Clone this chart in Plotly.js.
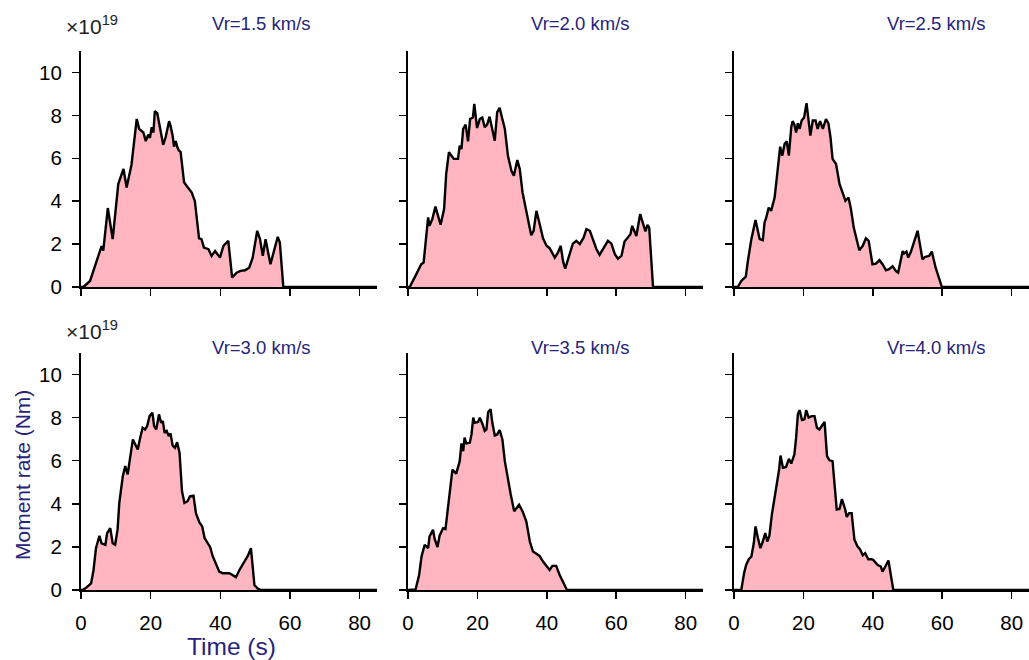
<!DOCTYPE html>
<html>
<head>
<meta charset="utf-8">
<script src="https://cdn.plot.ly/plotly-3.0.1.min.js"></script>
<style>html,body{margin:0;padding:0;background:#fff;}#chart{width:1029px;height:660px;}</style>
</head>
<body>
<div id="chart"></div>
<script>
// ---- data (time in s, moment rate in 1e19 Nm) ----
const panelTitles = ["Vr=1.5 km/s", "Vr=2.0 km/s", "Vr=2.5 km/s", "Vr=3.0 km/s", "Vr=3.5 km/s", "Vr=4.0 km/s"];
const xTicks = [0, 20, 40, 60, 80];
const yTicks = [0, 2, 4, 6, 8, 10];

const t15 = [0,0.7,2.6,4.5,5.5,5.9,6.4,7.7,9.1,10.7,12.2,13.1,14.5,16.0,16.7,17.9,18.6,19.3,19.8,20.3,20.8,21.2,21.9,22.7,23.6,24.3,25.3,25.7,26.3,26.7,27.2,27.7,28.1,28.6,29.6,30.3,31.8,32.7,33.9,34.6,35.3,36.6,37.5,38.5,39.9,40.9,42.3,43.4,44.7,45.8,47.1,48.3,49.3,50.6,51.4,52.2,53.0,54.4,56.5,57.1,58.1,85];
const m15 = [0,0,0.28,1.2,1.76,1.9,1.7,3.68,2.23,4.8,5.5,4.64,5.7,7.83,7.37,7.2,6.8,7.1,6.95,7.45,7.2,8.2,8.1,7.45,6.63,6.98,7.73,7.52,7.06,6.54,6.8,6.5,6.36,6.3,4.88,4.72,4.4,4.0,2.27,2.23,1.84,1.76,1.45,1.68,1.37,1.92,2.15,0.44,0.67,0.75,0.78,0.9,1.37,2.62,2.23,1.45,2.23,1.06,2.34,2.07,0,0];

const t20 = [0,0.5,2.4,3.8,4.5,5.8,6.2,7.0,7.9,8.7,9.4,10.4,11.0,11.8,12.5,13.2,14.4,14.9,15.4,15.9,16.6,17.3,17.9,18.7,19.1,19.9,20.7,21.4,22.1,22.8,23.5,24.2,25.0,25.7,26.4,27.9,28.8,29.8,30.5,31.5,32.2,33.0,34.1,35.5,36.2,37.0,37.9,38.9,39.9,40.8,42.3,43.2,44.0,44.7,45.3,46.1,46.8,47.5,48.5,49.5,50.6,51.4,52.4,53.3,54.3,55.2,56.4,57.6,58.6,59.6,60.5,61.5,62.4,63.4,64.1,64.6,65.8,66.9,67.7,68.4,69.0,69.5,70.6,85];
const m20 = [0,0,0.6,1.06,1.14,3.24,2.85,3.16,3.75,3.32,2.9,3.63,5.26,6.28,6.12,5.97,5.97,6.59,6.43,7.37,7.57,6.79,7.83,7.9,8.54,7.41,7.83,7.9,7.45,7.57,7.94,7.37,6.82,8.15,8.35,7.37,6.12,5.42,5.19,5.92,5.5,4.41,3.47,2.41,2.62,3.55,2.96,2.27,1.92,1.81,1.37,1.6,1.92,1.18,0.86,1.29,1.6,2.02,2.15,2.0,2.3,2.7,2.62,2.23,1.76,1.5,1.84,2.15,2.02,1.53,1.32,1.45,2.12,2.34,2.46,2.85,2.38,3.4,2.93,2.59,2.9,2.77,0,0];

const t25 = [0,1.1,2.1,3.4,4.0,5.0,6.2,7.4,8.3,8.8,9.3,10.0,10.7,11.7,12.4,13.3,13.9,14.6,15.2,15.8,16.5,16.9,17.4,17.9,18.4,18.9,19.5,20.2,20.9,21.3,22.0,22.7,23.5,24.1,24.8,25.6,26.5,27.2,27.8,28.4,29.4,30.4,31.1,32.1,33.0,33.7,34.5,35.3,36.1,37.1,38.0,38.8,39.9,40.9,41.9,42.8,43.8,44.7,45.7,46.6,47.3,48.6,49.0,49.7,50.2,51.0,51.9,52.9,53.4,54.3,55.0,56.2,57.0,58.1,59.9,85];
const m25 = [0,0,0.28,0.48,1.21,2.23,3.12,2.23,2.18,3.0,3.24,3.7,3.55,4.17,5.19,6.54,6.12,6.67,6.79,6.12,7.45,7.73,7.57,7.2,7.63,7.37,7.76,7.9,8.57,8.07,7.06,7.76,7.76,7.37,7.73,7.37,7.83,7.63,6.98,5.97,5.73,4.8,4.49,4.02,4.17,3.63,2.77,2.3,1.71,1.92,2.27,2.15,1.06,1.09,1.25,1.06,0.78,0.83,0.97,0.75,0.67,1.68,1.56,1.65,1.37,1.65,2.12,2.62,2.15,1.29,1.4,1.45,1.65,0.9,0,0];

const t30 = [0,0.5,1.6,2.9,3.6,4.3,5.3,5.9,7.0,7.5,8.4,9.1,9.8,10.5,11.0,12.0,12.7,13.4,14.1,14.9,15.6,16.3,17.0,17.7,18.4,19.0,19.7,20.5,21.0,21.6,22.4,23.0,23.5,24.0,24.6,25.2,25.7,26.3,27.0,27.6,28.3,29.0,29.7,30.6,31.3,32.3,33.0,34.0,34.8,35.5,36.4,37.1,37.8,38.8,39.7,40.7,42.6,43.5,44.5,45.5,46.9,47.9,48.8,49.8,50.8,51.7,85];
const m30 = [0,0,0.12,0.31,0.93,1.94,2.52,2.17,2.1,2.64,2.87,2.17,2.1,2.8,4.04,5.28,5.75,5.36,6.13,6.99,6.75,6.52,7.07,7.53,7.45,7.61,8.07,8.23,7.61,7.45,8.15,7.76,7.84,7.3,7.38,7.14,7.27,6.71,6.6,6.86,6.37,4.58,4.04,4.12,4.35,4.38,3.57,3.14,2.95,2.41,2.17,1.99,1.58,1.16,0.85,0.78,0.78,0.7,0.59,0.93,1.32,1.58,1.94,0.23,0.06,0,0];

const t35 = [0,2.2,3.2,3.9,4.8,5.8,6.2,7.2,7.7,8.5,9.1,10.1,10.8,11.7,12.8,13.9,14.9,15.4,15.9,16.3,16.8,17.8,18.3,18.8,19.2,20.2,20.7,21.4,22.1,22.6,23.1,23.8,24.3,25.0,25.7,26.4,27.2,27.9,28.8,29.6,30.6,31.2,32.0,33.0,34.1,35.1,36.0,37.0,37.9,38.9,39.9,40.8,41.6,42.7,43.7,44.7,45.8,85];
const m35 = [0,0.03,0.7,1.55,2.1,1.94,2.48,2.8,2.36,1.99,2.52,2.87,2.83,4.19,5.59,5.4,5.98,6.8,6.44,7.07,6.8,6.83,7.22,8.0,7.76,7.8,8.0,7.73,7.38,7.45,8.26,8.39,7.76,7.17,7.22,7.42,6.99,5.98,5.05,4.43,3.65,3.8,3.96,3.65,3.18,2.25,1.79,1.68,1.58,1.32,1.09,0.93,1.12,1.12,0.7,0.34,0,0];

const t40 = [0,2.1,2.9,3.5,4.3,5.0,5.7,6.2,6.9,7.6,8.3,9.0,9.6,10.2,10.9,11.7,12.4,13.0,13.4,14.1,15.0,15.8,16.5,17.4,17.9,18.4,18.9,19.6,20.3,20.8,21.5,22.4,23.2,23.9,24.6,25.4,26.1,26.8,27.5,28.4,29.6,30.4,31.1,32.0,32.5,33.2,33.9,34.7,35.6,36.3,37.1,37.8,38.7,39.5,40.1,41.4,42.3,42.8,43.6,44.5,45.9,85];
const m40 = [0,0,0.78,1.16,1.44,1.55,2.17,2.95,2.41,1.94,2.25,2.64,2.25,2.52,3.49,4.32,5.05,5.59,6.24,5.67,5.71,6.09,5.87,6.29,7.07,8.15,8.35,7.89,7.92,8.35,8.0,8.07,8.07,7.53,7.45,7.64,7.8,6.21,6.02,5.98,3.73,3.76,4.22,3.76,3.39,3.57,3.57,2.33,2.02,1.89,1.61,1.71,1.43,1.43,1.4,1.16,1.09,0.85,1.09,1.37,0,0];

const times = [t15, t20, t25, t30, t35, t40];
const rates = [m15, m20, m25, m30, m35, m40];

// ---- layout geometry (pixels) ----
const W = 1029, H = 660;
const colPx = [[81, 377], [408, 703], [734, 1029]];
const rowPx = [[51, 287], [353, 590]];
const navy = '#27237a';
const fontFam = 'Liberation Sans, Arial, Helvetica, sans-serif';
const px = x => x / W;
const py = y => 1 - y / H;

const data = [];
const layout = {
  width: W, height: H,
  margin: {l: 0, r: 0, t: 0, b: 0},
  paper_bgcolor: '#fff', plot_bgcolor: '#fff',
  showlegend: false,
  font: {family: fontFam, color: '#000', size: 20},
  annotations: []
};

for (let i = 0; i < 6; i++) {
  const r = Math.floor(i / 3), c = i % 3;
  const n = i + 1;
  const xa = 'x' + (n === 1 ? '' : n), ya = 'y' + (n === 1 ? '' : n);
  data.push({
    type: 'scatter', mode: 'lines',
    x: times[i], y: rates[i],
    xaxis: xa, yaxis: ya,
    fill: 'tozeroy', fillcolor: '#ffb6c1',
    line: {color: '#000', width: 2.4},
    hoverinfo: 'skip'
  });
  const common = {
    showline: true, linecolor: '#000', linewidth: 2,
    ticks: 'outside', ticklen: 7, tickwidth: 1.5, tickcolor: '#000',
    showgrid: false, zeroline: false, automargin: false,
    tickfont: {size: 20.5, family: fontFam, color: '#000'},
    fixedrange: true
  };
  layout['xaxis' + (n === 1 ? '' : n)] = Object.assign({}, common, {
    domain: [px(colPx[c][0]), px(colPx[c][1])],
    anchor: ya, range: [0, 85],
    tickmode: 'array', tickvals: xTicks, ticktext: xTicks.map(String),
    showticklabels: r === 1, ticklabelstandoff: 6
  });
  layout['yaxis' + (n === 1 ? '' : n)] = Object.assign({}, common, {
    domain: [py(rowPx[r][1]), py(rowPx[r][0])],
    anchor: xa, range: [0, 11],
    tickmode: 'array', tickvals: yTicks, ticktext: yTicks.map(String),
    showticklabels: c === 0, ticklabelstandoff: 6
  });
}

const titlePos = [[261, 23], [580, 23], [936, 23], [261, 347], [580, 347], [936, 347]];
panelTitles.forEach((t, i) => {
  layout.annotations.push({
    text: t, xref: 'paper', yref: 'paper',
    x: px(titlePos[i][0]), y: py(titlePos[i][1]),
    xanchor: 'center', yanchor: 'middle', showarrow: false,
    font: {size: 18.5, color: navy, family: fontFam}
  });
});

[[64, 25], [64, 330]].forEach(p => {
  layout.annotations.push({
    text: '×10<sup>19</sup>', xref: 'paper', yref: 'paper',
    x: px(p[0]), y: py(p[1]), xanchor: 'left', yanchor: 'middle', showarrow: false,
    font: {size: 21, color: '#222', family: fontFam}
  });
});

layout.annotations.push({
  text: 'Moment rate (Nm)', xref: 'paper', yref: 'paper',
  x: px(22), y: py(475), xanchor: 'center', yanchor: 'middle', showarrow: false,
  textangle: -90, font: {size: 21, color: navy, family: fontFam}
});
layout.annotations.push({
  text: 'Time (s)', xref: 'paper', yref: 'paper',
  x: px(231), y: py(646), xanchor: 'center', yanchor: 'middle', showarrow: false,
  font: {size: 24.5, color: navy, family: fontFam}
});

Plotly.newPlot('chart', data, layout, {staticPlot: true, displayModeBar: false});
</script>
</body>
</html>
